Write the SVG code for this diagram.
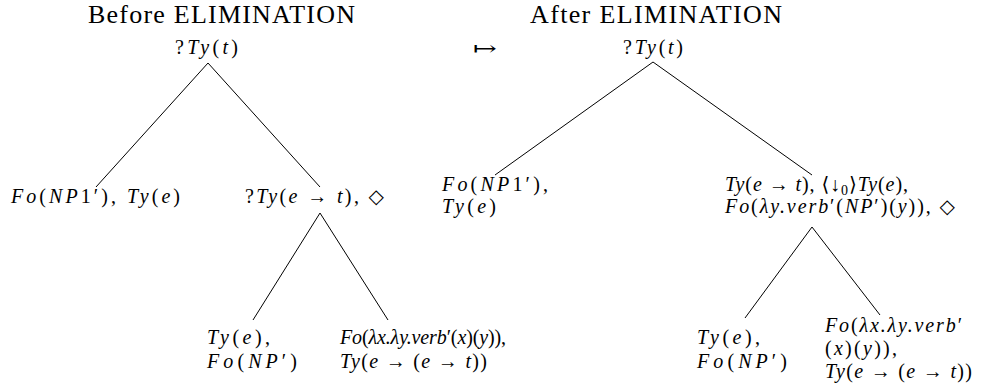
<svg xmlns="http://www.w3.org/2000/svg" width="989" height="392" viewBox="0 0 989 392">
<style>
text{font-family:"Liberation Serif","DejaVu Serif",serif;fill:#000}
.t{font-size:26px}
.m{font-size:20px;font-style:italic}
.r{font-style:normal}
.s{font-size:14px;font-style:normal}
.e{stroke:#000;stroke-width:1;fill:none}
</style>
<rect width="989" height="392" fill="#fff"/>
<g id="connectors">
<line class="e" x1="208" y1="63" x2="96" y2="187"/>
<line class="e" x1="208" y1="63" x2="320" y2="187"/>
<line class="e" x1="320" y1="213" x2="253" y2="320"/>
<line class="e" x1="320" y1="213" x2="388" y2="320"/>
<line class="e" x1="653" y1="62" x2="495" y2="175"/>
<line class="e" x1="653" y1="62" x2="812" y2="175"/>
<line class="e" x1="812" y1="227" x2="745" y2="318"/>
<line class="e" x1="812" y1="227" x2="880" y2="315"/>
</g>
<g id="title-before"><text class="t" x="88" y="23" textLength="267" lengthAdjust="spacing">Before ELIMINATION</text></g>
<g id="title-after"><text class="t" x="530" y="23" textLength="252" lengthAdjust="spacing">After ELIMINATION</text></g>
<g id="mapsto"><text class="m" x="473" y="55" textLength="24" lengthAdjust="spacingAndGlyphs"><tspan class="r">↦</tspan></text></g>
<g id="b-root"><text class="m" x="175" y="54" textLength="63" lengthAdjust="spacing"><tspan class="r">?</tspan>Ty<tspan class="r">(</tspan>t<tspan class="r">)</tspan></text></g>
<g id="b-left"><text class="m" x="11" y="203" textLength="169" lengthAdjust="spacing">Fo<tspan class="r">(</tspan>NP<tspan class="r">1′), </tspan>Ty<tspan class="r">(</tspan>e<tspan class="r">)</tspan></text></g>
<g id="b-right"><text class="m" x="245" y="203" textLength="139" lengthAdjust="spacing"><tspan class="r">?</tspan>Ty<tspan class="r">(</tspan>e<tspan class="r"> → </tspan>t<tspan class="r">), ◇</tspan></text></g>
<g id="b-rl">
<text class="m" x="207" y="344" textLength="63" lengthAdjust="spacing">Ty<tspan class="r">(</tspan>e<tspan class="r">),</tspan></text>
<text class="m" x="207" y="368" textLength="90" lengthAdjust="spacing">Fo<tspan class="r">(</tspan>NP<tspan class="r">′)</tspan></text>
</g>
<g id="b-rr">
<text class="m" x="340" y="344" textLength="166" lengthAdjust="spacing">Fo<tspan class="r">(</tspan>λx.λy.verb<tspan class="r">′(</tspan>x<tspan class="r">)(</tspan>y<tspan class="r">)),</tspan></text>
<text class="m" x="340" y="368" textLength="147" lengthAdjust="spacing">Ty<tspan class="r">(</tspan>e<tspan class="r"> → (</tspan>e<tspan class="r"> → </tspan>t<tspan class="r">))</tspan></text>
</g>
<g id="a-root"><text class="m" x="623" y="54" textLength="60" lengthAdjust="spacing"><tspan class="r">?</tspan>Ty<tspan class="r">(</tspan>t<tspan class="r">)</tspan></text></g>
<g id="a-left">
<text class="m" x="442" y="191" textLength="106" lengthAdjust="spacing">Fo<tspan class="r">(</tspan>NP<tspan class="r">1′),</tspan></text>
<text class="m" x="442" y="213" textLength="54" lengthAdjust="spacing">Ty<tspan class="r">(</tspan>e<tspan class="r">)</tspan></text>
</g>
<g id="a-right">
<text class="m" x="725" y="191" textLength="183" lengthAdjust="spacing">Ty<tspan class="r">(</tspan>e<tspan class="r"> → </tspan>t<tspan class="r">), ⟨↓</tspan><tspan class="s" dy="4">0</tspan><tspan class="r" dy="-4">⟩</tspan>Ty<tspan class="r">(</tspan>e<tspan class="r">),</tspan></text>
<text class="m" x="725" y="213" textLength="230" lengthAdjust="spacing">Fo<tspan class="r">(</tspan>λy.verb<tspan class="r">′(</tspan>NP<tspan class="r">′)(</tspan>y<tspan class="r">)), ◇</tspan></text>
</g>
<g id="a-rl">
<text class="m" x="697" y="344" textLength="63" lengthAdjust="spacing">Ty<tspan class="r">(</tspan>e<tspan class="r">),</tspan></text>
<text class="m" x="697" y="368" textLength="90" lengthAdjust="spacing">Fo<tspan class="r">(</tspan>NP<tspan class="r">′)</tspan></text>
</g>
<g id="a-rr">
<text class="m" x="825" y="332" textLength="137" lengthAdjust="spacing">Fo<tspan class="r">(</tspan>λx.λy.verb<tspan class="r">′</tspan></text>
<text class="m" x="825" y="355" textLength="72" lengthAdjust="spacing"><tspan class="r">(</tspan>x<tspan class="r">)(</tspan>y<tspan class="r">)),</tspan></text>
<text class="m" x="825" y="378" textLength="147" lengthAdjust="spacing">Ty<tspan class="r">(</tspan>e<tspan class="r"> → (</tspan>e<tspan class="r"> → </tspan>t<tspan class="r">))</tspan></text>
</g>
</svg>
